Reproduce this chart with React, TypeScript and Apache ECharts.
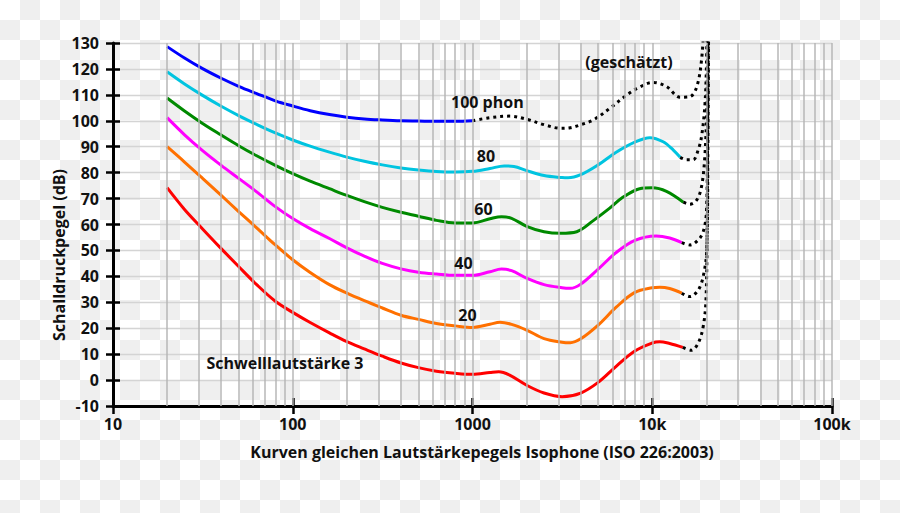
import React, { useEffect, useRef } from "react";
import * as echarts from "echarts";

// Tick values / labels
const xTickValues = [10, 100, 1000, 10000, 100000];
const xTickLabels = ["10", "100", "1000", "10k", "100k"];

// Vertical (log) grid line frequencies
const gridFreqs = [
  20, 30, 40, 50, 60, 70, 80, 90, 100,
  200, 300, 400, 500, 600, 700, 800, 900, 1000,
  2000, 3000, 4000, 5000, 6000, 7000, 8000, 9000, 10000,
  20000, 30000, 40000, 50000, 60000, 70000, 80000, 90000, 100000,
];

// [frequency Hz, level dB]
const phon100: [number, number][] = [
  [20, 128.6], [25, 124.2], [31.5, 120.1], [40, 116.4], [50, 113.3], [63, 110.5],
  [80, 107.7], [100, 105.7], [125, 103.9], [160, 102.4], [200, 101.4], [250, 100.7],
  [315, 100.3], [400, 100.0], [500, 99.9], [630, 99.8], [800, 99.8], [1000, 100.0],
];
const phon100Est: [number, number][] = [
  [1000, 100.0], [1250, 101.2], [1600, 101.8], [2000, 100.6], [2500, 98.5], [3100, 97.1],
  [3500, 97.3], [4000, 98.5], [4700, 100.3], [5800, 104.8], [7200, 109.9], [8500, 113.0],
  [10100, 114.8], [12000, 113.2], [14300, 109.1], [16200, 109.3], [17700, 113.2],
  [18800, 123.4], [19500, 140],
];

const phon80: [number, number][] = [
  [20, 118.9], [25, 114.2], [31.5, 109.8], [40, 105.6], [50, 102.0], [63, 98.6],
  [80, 95.3], [100, 92.6], [125, 90.2], [160, 87.9], [200, 86.0], [250, 84.4],
  [315, 83.0], [400, 81.8], [500, 81.0], [630, 80.4], [800, 80.2], [1000, 80.5],
  [1250, 81.6], [1500, 82.6], [1700, 82.4], [2000, 80.8], [2500, 78.9], [3150, 78.1],
  [3400, 78.0], [4000, 79.2], [5000, 83.0], [6300, 87.9], [8000, 91.8], [9700, 93.5],
  [11500, 91.9], [13100, 88.7], [14300, 85.9],
];
const phon80Est: [number, number][] = [
  [14300, 85.9], [15500, 85.0], [16900, 85.0], [18000, 88.7], [18800, 93.9],
  [19600, 105.4], [20000, 120], [20200, 140],
];

const phon60: [number, number][] = [
  [20, 108.8], [25, 103.8], [31.5, 99.0], [40, 94.5], [50, 90.4], [63, 86.5],
  [80, 82.8], [100, 79.6], [125, 76.7], [160, 73.8], [200, 71.2], [250, 68.8],
  [315, 66.6], [400, 64.7], [500, 63.2], [630, 61.6], [800, 60.6], [1000, 60.6],
  [1250, 62.2], [1450, 63.0], [1650, 62.4], [2000, 59.3], [2500, 57.2], [3100, 56.6],
  [3800, 57.2], [4700, 61.5], [5800, 66.3], [6800, 70.3], [8500, 73.8], [10000, 74.2],
  [12000, 72.8], [14900, 68.6],
];
const phon60Est: [number, number][] = [
  [14900, 68.6], [16200, 67.8], [17700, 69.5], [18800, 74.6], [19600, 86],
  [20100, 105], [20400, 140],
];

const phon40: [number, number][] = [
  [20, 101.2], [25, 94.6], [31.5, 88.5], [40, 82.8], [50, 77.8], [63, 72.6],
  [80, 66.9], [100, 62.3], [125, 58.4], [160, 54.6], [200, 51.0], [250, 47.8],
  [315, 45.0], [400, 42.9], [500, 41.6], [630, 40.9], [800, 40.4], [1000, 40.4],
  [1250, 41.8], [1450, 42.8], [1650, 42.2], [2000, 39.3], [2500, 36.8], [3150, 35.6],
  [3500, 35.4], [4000, 37.0], [5000, 42.8], [6300, 49.2], [8000, 53.9], [10500, 55.6],
  [12500, 54.8], [14600, 53.0],
];
const phon40Est: [number, number][] = [
  [14600, 53.0], [16200, 52.1], [18000, 54.0], [19200, 57.2], [20000, 64.3],
  [20300, 90], [20500, 140],
];

const phon20: [number, number][] = [
  [20, 90.0], [25, 84.1], [31.5, 77.8], [40, 71.2], [50, 65.0], [63, 58.7],
  [80, 52.1], [100, 46.4], [125, 41.5], [160, 36.8], [200, 33.5], [250, 30.6],
  [315, 27.8], [400, 25.0], [500, 23.4], [630, 21.8], [800, 20.9], [1000, 20.3],
  [1250, 21.5], [1420, 22.3], [1650, 21.5], [2000, 19.3], [2500, 16.0], [3150, 14.6],
  [3500, 14.4], [4000, 15.9], [5000, 21.2], [6300, 28.1], [8000, 33.8], [10000, 35.6],
  [11000, 35.8], [12500, 35.3], [14600, 33.5],
];
const phon20Est: [number, number][] = [
  [14600, 33.5], [16200, 32.2], [18000, 34.7], [19200, 39.9], [20100, 50.2],
  [20400, 90], [20600, 140],
];

const threshold: [number, number][] = [
  [20, 74.2], [25, 65.8], [31.5, 58.3], [40, 50.7], [50, 43.8], [63, 36.8],
  [80, 30.4], [100, 26.1], [125, 22.2], [160, 18.2], [200, 14.8], [250, 12.0],
  [315, 9.2], [400, 6.6], [500, 4.8], [630, 3.4], [800, 2.6], [1000, 2.2],
  [1250, 2.9], [1400, 3.2], [1600, 2.0], [2000, -2.0], [2500, -5.0], [3150, -6.4],
  [4000, -5.0], [5000, -0.9], [6300, 5.3], [8000, 11.2], [10000, 14.3], [11000, 14.8],
  [12500, 14.1], [14800, 12.6],
];
const thresholdEst: [number, number][] = [
  [14800, 12.6], [16500, 11.5], [18000, 14.2], [19200, 20.6], [19900, 31],
  [20200, 60], [20400, 140],
];

const solidCurves = [
  { name: "100 phon", data: phon100, color: "#0000ff" },
  { name: "80 phon", data: phon80, color: "#00c4e0" },
  { name: "60 phon", data: phon60, color: "#008a00" },
  { name: "40 phon", data: phon40, color: "#ff00ff" },
  { name: "20 phon", data: phon20, color: "#ff7000" },
  { name: "Schwelle", data: threshold, color: "#ff0000" },
];
const estCurves = [phon100Est, phon80Est, phon60Est, phon40Est, phon20Est, thresholdEst];

const FONT = "Open Sans";
const textStyle = { fontFamily: FONT, fontWeight: "bold" as const, fontSize: 16, fill: "#111" };

export default function App() {
  const ref = useRef<HTMLDivElement>(null);

  useEffect(() => {
    document.body.style.margin = "0";
    const chart = echarts.init(ref.current!, null, { renderer: "svg" });

    const xLabel = (v: number) => {
      const i = xTickValues.findIndex((t) => Math.abs(t - v) / t < 1e-6);
      return i >= 0 ? xTickLabels[i] : "";
    };

    const axisLineStyle = { color: "#000", width: 3 };
    const tickStyle = { color: "#000", width: 2.5 };
    const labelStyle = { fontFamily: FONT, fontWeight: "bold" as const, fontSize: 16, color: "#111" };

    const series: any[] = [
      {
        type: "line",
        data: [],
        z: 1,
        silent: true,
        markLine: {
          silent: true,
          animation: false,
          symbol: ["none", "none"],
          label: { show: false },
          emphasis: { disabled: true },
          lineStyle: { color: "#b5b5b5", width: 1.6, type: "solid", opacity: 0.9 },
          data: gridFreqs.map((f) => ({ xAxis: f })),
        },
      },
    ];
    solidCurves.forEach((c) => {
      series.push({
        type: "line",
        name: c.name,
        data: c.data,
        smooth: 0.35,
        symbol: "none",
        z: 3,
        silent: true,
        lineStyle: { color: c.color, width: 3 },
      });
    });
    estCurves.forEach((d) => {
      series.push({
        type: "line",
        data: d,
        smooth: 0.35,
        symbol: "none",
        z: 4,
        silent: true,
        lineStyle: { color: "#000", width: 3, type: [3, 4], cap: "butt" },
      });
    });

    chart.setOption({
      animation: false,
      grid: { left: 113, right: 68, top: 43, bottom: 107 },
      xAxis: [
        {
          type: "log",
          logBase: 10,
          min: 10,
          max: 100000,
          position: "bottom",
          axisLine: { show: true, onZero: false, lineStyle: axisLineStyle },
          axisTick: { show: true, length: 8, lineStyle: tickStyle },
          axisLabel: { ...labelStyle, margin: 10, formatter: xLabel },
          splitLine: { show: false },
          minorTick: { show: false },
          minorSplitLine: { show: false },
        },
        {
          type: "log",
          logBase: 10,
          min: 10,
          max: 100000,
          position: "bottom",
          axisLine: { show: false, onZero: false },
          axisTick: { show: true, inside: true, length: 8, lineStyle: tickStyle },
          axisLabel: { show: false },
          splitLine: { show: false },
        },
      ],
      yAxis: [
        {
          type: "value",
          min: -10,
          max: 130,
          interval: 10,
          position: "left",
          axisLine: { show: true, onZero: false, lineStyle: axisLineStyle },
          axisTick: { show: true, length: 7, lineStyle: tickStyle },
          axisLabel: { ...labelStyle, margin: 14 },
          splitLine: { show: true, lineStyle: { color: "#d4d4d4", width: 1.3 } },
        },
        {
          type: "value",
          min: -10,
          max: 130,
          interval: 10,
          position: "left",
          axisLine: { show: false, onZero: false },
          axisTick: { show: true, inside: true, length: 7, lineStyle: tickStyle },
          axisLabel: { show: false },
          splitLine: { show: false },
        },
      ],
      series,
      graphic: [
        { type: "text", x: 451, y: 102, z: 10, style: { ...textStyle, text: "100 phon", align: "left", verticalAlign: "middle" } },
        { type: "text", x: 486, y: 156, z: 10, style: { ...textStyle, text: "80", align: "center", verticalAlign: "middle" } },
        { type: "text", x: 483.5, y: 209, z: 10, style: { ...textStyle, text: "60", align: "center", verticalAlign: "middle" } },
        { type: "text", x: 463.5, y: 262.5, z: 10, style: { ...textStyle, text: "40", align: "center", verticalAlign: "middle" } },
        { type: "text", x: 467.5, y: 315, z: 10, style: { ...textStyle, text: "20", align: "center", verticalAlign: "middle" } },
        { type: "text", x: 285, y: 362.5, z: 10, style: { ...textStyle, text: "Schwelllautstärke 3", align: "center", verticalAlign: "middle" } },
        { type: "text", x: 629, y: 62, z: 10, style: { ...textStyle, text: "(geschätzt)", align: "center", verticalAlign: "middle" } },
        { type: "text", x: 482, y: 452, z: 10, style: { ...textStyle, text: "Kurven gleichen Lautstärkepegels Isophone (ISO 226:2003)", align: "center", verticalAlign: "middle" } },
        { type: "text", x: 58.5, y: 255, rotation: Math.PI / 2, z: 10, style: { ...textStyle, text: "Schalldruckpegel (dB)", align: "center", verticalAlign: "middle" } },
      ],
    });

    return () => chart.dispose();
  }, []);

  return (
    <div
      ref={ref}
      style={{
        width: 900,
        height: 513,
        backgroundColor: "#ffffff",
        backgroundImage:
          "conic-gradient(#efefef 25%, #ffffff 0 50%, #efefef 0 75%, #ffffff 0)",
        backgroundSize: "40px 40px",
      }}
    />
  );
}
